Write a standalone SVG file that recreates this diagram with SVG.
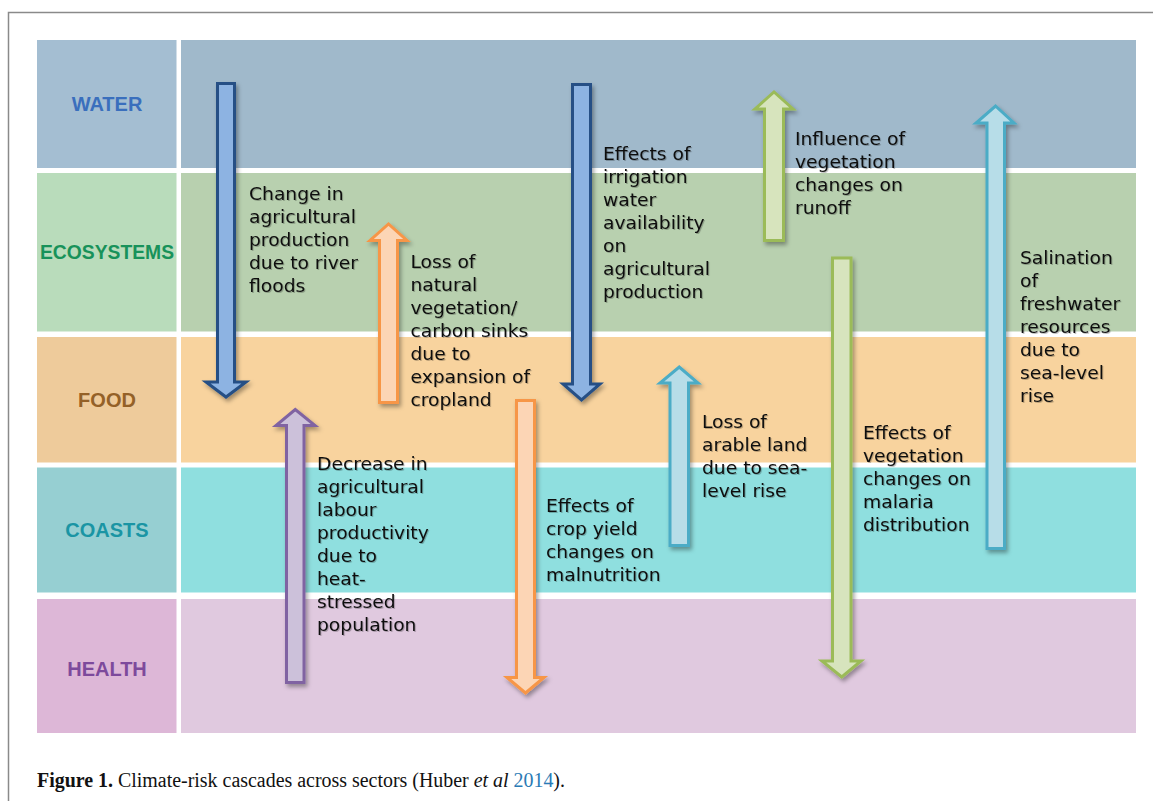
<svg xmlns="http://www.w3.org/2000/svg" width="1153" height="801" viewBox="0 0 1153 801">
<defs>
<filter id="sh" x="-30%" y="-5%" width="160%" height="115%">
<feDropShadow dx="2" dy="3" stdDeviation="2" flood-color="#000" flood-opacity="0.35"/>
</filter>
<filter id="tsh" x="-5%" y="-5%" width="110%" height="115%">
<feDropShadow dx="1" dy="1" stdDeviation="0.7" flood-color="#000" flood-opacity="0.25"/>
</filter>
</defs>
<style>
.sec{font-family:"Liberation Sans",Arial,sans-serif;font-weight:bold;font-size:20px;text-anchor:middle}
.lbl{font-family:"DejaVu Sans",Verdana,sans-serif;font-size:17px;fill:#111}
.arr{stroke-width:3;stroke-linejoin:miter;filter:url(#sh)}
.blue{fill:#8db3e2;stroke:#254f85}
.orange{fill:#fcd5b5;stroke:#f79646}
.green{fill:#d7e4bd;stroke:#9bbb59}
.lblue{fill:#b7dde8;stroke:#4bacc6}
.purple{fill:#ccc1da;stroke:#8064a2}
.cap{font-family:"Liberation Serif","Times New Roman",serif;font-size:20px;fill:#111}
</style>
<rect x="0" y="0" width="1153" height="801" fill="#fff"/>
<path d="M1153,12.5 L8.5,12.5 L8.5,801" fill="none" stroke="#8a8a8a" stroke-width="1.5"/>

<g id="water">
<rect x="37" y="40" width="139.5" height="128" fill="#a4bed2"/>
<rect x="181" y="40" width="955" height="128" fill="#a0b9cb"/>
<text class="sec" x="107" y="111" fill="#3a6fbd">WATER</text>
</g>
<g id="ecosystems">
<rect x="37" y="173" width="139.5" height="158.5" fill="#b9dcbb"/>
<rect x="181" y="173" width="955" height="158.5" fill="#b8d0af"/>
<text class="sec" x="107" y="259" fill="#18925a" textLength="134" lengthAdjust="spacingAndGlyphs">ECOSYSTEMS</text>
</g>
<g id="food">
<rect x="37" y="337" width="139.5" height="125.5" fill="#eecb9b"/>
<rect x="181" y="337" width="955" height="125.5" fill="#f8d39e"/>
<text class="sec" x="107" y="407" fill="#946127">FOOD</text>
</g>
<g id="coasts">
<rect x="37" y="467.5" width="139.5" height="125" fill="#96cfd2"/>
<rect x="181" y="467.5" width="955" height="125" fill="#8fdfdf"/>
<text class="sec" x="107" y="537" fill="#1a95a4">COASTS</text>
</g>
<g id="health">
<rect x="37" y="599" width="139.5" height="134" fill="#ddb7d7"/>
<rect x="181" y="599" width="955" height="134" fill="#e0c9df"/>
<text class="sec" x="107" y="676" fill="#7d4a9c">HEALTH</text>
</g>

<g id="connectors">
<g id="c1">
<path class="arr blue" d="M217.5,83.5 L234.5,83.5 L234.5,382 L246,382 L226,397 L206,382 L217.5,382 Z"/>
<text class="lbl" filter="url(#tsh)" transform="translate(249,200) scale(1.1,1)"><tspan x="0" y="0">Change in</tspan><tspan x="0" y="23">agricultural</tspan><tspan x="0" y="46">production</tspan><tspan x="0" y="69">due to river</tspan><tspan x="0" y="92">floods</tspan></text>
</g>
<g id="c2">
<path class="arr orange" d="M379.5,402.5 L379.5,240.5 L370,240.5 L388.5,224 L407,240.5 L397.5,240.5 L397.5,402.5 Z"/>
<text class="lbl" filter="url(#tsh)" transform="translate(410.5,268) scale(1.1,1)"><tspan x="0" y="0">Loss of</tspan><tspan x="0" y="23">natural</tspan><tspan x="0" y="46">vegetation/</tspan><tspan x="0" y="69">carbon sinks</tspan><tspan x="0" y="92">due to</tspan><tspan x="0" y="115">expansion of</tspan><tspan x="0" y="138">cropland</tspan></text>
</g>
<g id="c3">
<path class="arr blue" d="M572.5,84.5 L590.5,84.5 L590.5,384 L600,384 L581.5,400 L563,384 L572.5,384 Z"/>
<text class="lbl" filter="url(#tsh)" transform="translate(603,160) scale(1.1,1)"><tspan x="0" y="0">Effects of</tspan><tspan x="0" y="23">irrigation</tspan><tspan x="0" y="46">water</tspan><tspan x="0" y="69">availability</tspan><tspan x="0" y="92">on</tspan><tspan x="0" y="115">agricultural</tspan><tspan x="0" y="138">production</tspan></text>
</g>
<g id="c4">
<path class="arr green" d="M764.5,240.5 L764.5,109 L755,109 L774,92 L793,109 L783.5,109 L783.5,240.5 Z"/>
<text class="lbl" filter="url(#tsh)" transform="translate(795,145) scale(1.1,1)"><tspan x="0" y="0">Influence of</tspan><tspan x="0" y="23">vegetation</tspan><tspan x="0" y="46">changes on</tspan><tspan x="0" y="69">runoff</tspan></text>
</g>
<g id="c5">
<path class="arr lblue" d="M987,548.5 L987,123 L976,123 L995.5,106 L1014,123 L1004.5,123 L1004.5,548.5 Z"/>
<text class="lbl" filter="url(#tsh)" transform="translate(1020,264) scale(1.1,1)"><tspan x="0" y="0">Salination</tspan><tspan x="0" y="23">of</tspan><tspan x="0" y="46">freshwater</tspan><tspan x="0" y="69">resources</tspan><tspan x="0" y="92">due to</tspan><tspan x="0" y="115">sea-level</tspan><tspan x="0" y="138">rise</tspan></text>
</g>
<g id="c6">
<path class="arr green" d="M832.5,258 L851,258 L851,661 L861,661 L841.75,677 L822,661 L832.5,661 Z"/>
<text class="lbl" filter="url(#tsh)" transform="translate(863,439) scale(1.1,1)"><tspan x="0" y="0">Effects of</tspan><tspan x="0" y="23">vegetation</tspan><tspan x="0" y="46">changes on</tspan><tspan x="0" y="69">malaria</tspan><tspan x="0" y="92">distribution</tspan></text>
</g>
<g id="c7">
<path class="arr lblue" d="M670,545.5 L670,383 L660,383 L679.25,367 L698,383 L688.5,383 L688.5,545.5 Z"/>
<text class="lbl" filter="url(#tsh)" transform="translate(702,428) scale(1.1,1)"><tspan x="0" y="0">Loss of</tspan><tspan x="0" y="23">arable land</tspan><tspan x="0" y="46">due to sea-</tspan><tspan x="0" y="69">level rise</tspan></text>
</g>
<g id="c8">
<path class="arr orange" d="M516.5,400.5 L534.5,400.5 L534.5,677.5 L544,677.5 L525.5,693 L507,677.5 L516.5,677.5 Z"/>
<text class="lbl" filter="url(#tsh)" transform="translate(546,512) scale(1.1,1)"><tspan x="0" y="0">Effects of</tspan><tspan x="0" y="23">crop yield</tspan><tspan x="0" y="46">changes on</tspan><tspan x="0" y="69">malnutrition</tspan></text>
</g>
<g id="c9">
<path class="arr purple" d="M286.5,682.5 L286.5,425.5 L276,425.5 L295.25,409.5 L315,425.5 L304,425.5 L304,682.5 Z"/>
<text class="lbl" filter="url(#tsh)" transform="translate(317,470) scale(1.1,1)"><tspan x="0" y="0">Decrease in</tspan><tspan x="0" y="23">agricultural</tspan><tspan x="0" y="46">labour</tspan><tspan x="0" y="69">productivity</tspan><tspan x="0" y="92">due to</tspan><tspan x="0" y="115">heat-</tspan><tspan x="0" y="138">stressed</tspan><tspan x="0" y="161">population</tspan></text>
</g>
</g>

<text class="cap" x="37" y="787" textLength="528" lengthAdjust="spacingAndGlyphs"><tspan font-weight="bold">Figure 1.</tspan> Climate-risk cascades across sectors (Huber <tspan font-style="italic">et al</tspan> <tspan fill="#2a7ab5">2014</tspan>).</text>
</svg>
